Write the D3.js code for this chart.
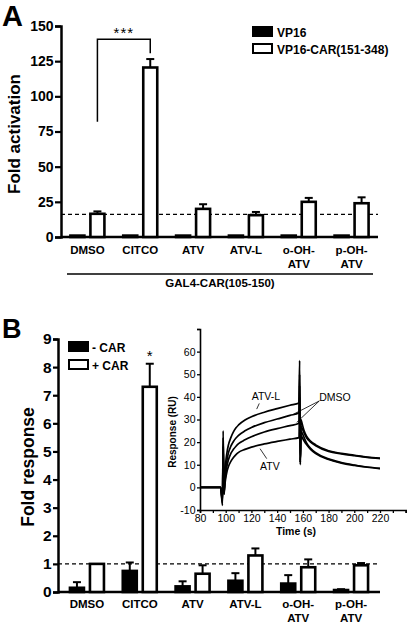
<!DOCTYPE html>
<html><head><meta charset="utf-8">
<script src="https://cdn.jsdelivr.net/npm/d3@7"></script>
<style>
body{margin:0;background:#fff;}
svg{display:block;font-family:"Liberation Sans",Arial,sans-serif;}
</style></head>
<body><svg id="c" width="413" height="625"></svg>
<script>
// ---------- DATA ----------
const categories = ["DMSO","CITCO","ATV","ATV-L","o-OH-ATV","p-OH-ATV"];
const categoryLines = [["DMSO"],["CITCO"],["ATV"],["ATV-L"],["o-OH-","ATV"],["p-OH-","ATV"]];

// Panel A
const seriesA = ["VP16","VP16-CAR(151-348)"];
const vp16 = [1,1,1,1,1,1];
const vp16Err = [1,1,1,1,1,1];
const vp16car = [16.5,120.5,20,15.5,25,24];
const vp16carErr = [18.2,126.5,23.3,17.8,27.8,28.2];
const ticksA = [0,25,50,75,100,125,150];
const refLineA = 16.1;

// Panel B
const seriesB = ["- CAR","+ CAR"];
const minusCar = [0.15,0.75,0.2,0.4,0.3,0.07];
const minusCarErr = [0.35,1.05,0.38,0.67,0.6,0.1];
const plusCar = [1.0,7.3,0.65,1.3,0.88,0.95];
const plusCarErr = [1.0,8.12,0.95,1.55,1.16,1.03];
const ticksB = [0,1,2,3,4,5,6,7,8,9];
const refLineB = 1.0;

// Inset sensorgram
const time = [80,96,97.5,98,98.7,99.3,100,101,102,104,106,108,110,115,120,130,140,150,157,157.5,158,158.5,159.5,161,163,166,170,180,190,200,210,220];
const ruATVL = [0,0,-8,25,-2,5,11,15.5,18.5,22,24.5,26.3,27.6,29.8,31.2,33.2,34.8,36.3,37.3,56,10,30,28,25,22.5,20.5,18.8,16.2,15,14.2,13.4,12.9];
const ruDMSO1 = [0,0,-7,22,-3,3,8,12,15,18.2,20.3,21.8,23,25,26.5,28.6,30.2,31.8,33,50,11,27,26,24,21.8,20,18.4,15.9,14.8,14,13.3,12.7];
const ruDMSO2 = [0,0,-6,18,-2,2,6,9.5,12,15,16.8,18.2,19.3,21,22.4,24.5,26,27.3,28.3,45,11,25,24,22,19.5,17.3,15.3,12.6,11,9.9,9,8.4];
const ruATV = [0,0,-5,15,-3,1,4,7,9,11.5,13.2,14.5,15.5,16.8,17.8,19.2,20.3,21.3,22,40,12,23,22,20.5,18.8,16.8,14.9,12.3,10.7,9.7,8.9,8.3];
const insetXTicks = [80,100,120,140,160,180,200,220];
const insetYTicks = [-10,0,10,20,30,40,50,60];

// annotations (data coords)
const notes = [
  {text:"ATV-L", t:131.3, v:38.5, lines:[[126.1,37.1,124.1,34.6]]},
  {text:"DMSO", t:185, v:38.1, lines:[[172.8,38.2,152.6,32.3],[172.8,38.2,155.2,28.7]]},
  {text:"ATV", t:134.4, v:7.8, lines:[[131.9,12.7,126.7,17.1]]}
];

// ---------- DRAW ----------
const svg = d3.select("#c");
const BOLD = "bold";

function barPanel(opts){
  const g = svg.append("g");
  const x0 = d3.scaleBand().domain(categories).range(opts.xr).paddingOuter(opts.po);
  const x1 = d3.scaleBand().domain(opts.series).range([-17,17]).paddingInner(0.3);
  const y = d3.scaleLinear().domain(opts.ydom).range(opts.yr);

  const ya = d3.axisLeft(y).tickValues(opts.ticks).tickSize(opts.tickLen).tickPadding(1.5);
  const yg = g.append("g").attr("transform",`translate(${opts.axisX},0)`).call(ya);
  yg.select(".domain").attr("stroke","#000").attr("stroke-width",2.5);
  yg.selectAll(".tick line").attr("stroke","#000").attr("stroke-width",2.2);
  yg.selectAll(".tick text").attr("font-size",opts.tickFont).attr("font-weight",BOLD)
    .attr("fill","#000").attr("font-family","'Liberation Sans',Arial,sans-serif");

  g.append("line").attr("x1",opts.axisX).attr("x2",opts.axisEnd)
    .attr("y1",y(0)).attr("y2",y(0)).attr("stroke","#000").attr("stroke-width",2.5);

  g.append("line").attr("x1",opts.axisX).attr("x2",opts.axisEnd)
    .attr("y1",y(opts.refLine)).attr("y2",y(opts.refLine))
    .attr("stroke","#000").attr("stroke-width",1.3).attr("stroke-dasharray","4,3");

  const data = [];
  categories.forEach((c,i)=>{
    opts.series.forEach((s,j)=>{
      data.push({c, s, j, v:opts.vals[j][i], e:opts.errs[j][i]});
    });
  });
  const cx = d => x0(d.c)+x0.bandwidth()/2 + x1(d.s);
  const eb = g.append("g");
  data.forEach(d=>{
    const xm = cx(d)+x1.bandwidth()/2;
    if (d.e > d.v){
      eb.append("line").attr("x1",xm).attr("x2",xm).attr("y1",y(d.v)).attr("y2",y(d.e))
        .attr("stroke","#000").attr("stroke-width",2);
      eb.append("line").attr("x1",xm-4).attr("x2",xm+4).attr("y1",y(d.e)).attr("y2",y(d.e))
        .attr("stroke","#000").attr("stroke-width",2);
    }
  });
  g.append("g").selectAll("rect").data(data).join("rect")
    .attr("x",d=>cx(d)).attr("width",x1.bandwidth())
    .attr("y",d=>y(d.v)).attr("height",d=>Math.max(0.5,y(0)-y(d.v)))
    .attr("fill",d=>d.j===0?"#000":"#fff").attr("stroke","#000").attr("stroke-width",2.6);

  categories.forEach((c,i)=>{
    const t = g.append("text").attr("x",x0(c)+x0.bandwidth()/2).attr("text-anchor","middle")
      .attr("font-size",11.5).attr("font-weight",BOLD);
    categoryLines[i].forEach((ln,k)=>{
      t.append("tspan").attr("x",x0(c)+x0.bandwidth()/2).attr("y",opts.labelY + k*13.5).text(ln);
    });
  });
  return {x0,x1,y,g};
}

// Panel A
const A = barPanel({xr:[61,378], po:0, series:seriesA, ydom:[0,150], yr:[237,26],
  ticks:ticksA, tickLen:6, tickFont:14, axisX:61, axisEnd:378, refLine:refLineA,
  vals:[vp16,vp16car], errs:[vp16Err,vp16carErr], labelY:254});

{
  const xL = A.x0("DMSO")+A.x0.bandwidth()/2 + A.x1(seriesA[1]) + A.x1.bandwidth()/2;
  const xR = A.x0("CITCO")+A.x0.bandwidth()/2 + A.x1(seriesA[1]) + A.x1.bandwidth()/2;
  A.g.append("path").attr("d",`M${xL},${A.y(82)}V${A.y(140.6)}H${xR}V${A.y(130.7)}`)
    .attr("fill","none").attr("stroke","#000").attr("stroke-width",1.5);
  A.g.append("text").attr("x",(xL+xR)/2).attr("y",A.y(141.5)).attr("text-anchor","middle")
    .attr("font-size",15).attr("letter-spacing",1).text("***");
}
svg.append("line").attr("x1",67).attr("x2",373).attr("y1",274).attr("y2",274)
  .attr("stroke","#000").attr("stroke-width",1.5);
svg.append("text").attr("x",220).attr("y",287).attr("text-anchor","middle")
  .attr("font-size",11.5).attr("font-weight",BOLD).text("GAL4-CAR(105-150)");
seriesA.forEach((s,j)=>{
  const yy = 27 + j*17;
  svg.append("rect").attr("x",253).attr("y",yy).attr("width",19).attr("height",9)
    .attr("fill",j===0?"#000":"#fff").attr("stroke","#000").attr("stroke-width",2);
  svg.append("text").attr("x",277).attr("y",yy+10).attr("font-size",12).attr("font-weight",BOLD).text(s);
});
svg.append("text").attr("transform","translate(20,134) rotate(-90)").attr("text-anchor","middle")
  .attr("font-size",17).attr("font-weight",BOLD).text("Fold activation");
svg.append("text").attr("x",2).attr("y",26).attr("font-size",29).attr("font-weight",BOLD).text("A");

// Panel B
const B = barPanel({xr:[58,380], po:0.048, series:seriesB, ydom:[0,9], yr:[592,339],
  ticks:ticksB, tickLen:5, tickFont:15.5, axisX:58, axisEnd:380, refLine:refLineB,
  vals:[minusCar,plusCar], errs:[minusCarErr,plusCarErr], labelY:608});
{
  const xc = B.x0("CITCO")+B.x0.bandwidth()/2 + B.x1(seriesB[1]) + B.x1.bandwidth()/2;
  B.g.append("text").attr("x",xc).attr("y",B.y(8.2)).attr("text-anchor","middle")
    .attr("font-size",15).text("*");
}
seriesB.forEach((s,j)=>{
  const yy = 342 + j*18;
  svg.append("rect").attr("x",69).attr("y",yy).attr("width",19).attr("height",9)
    .attr("fill",j===0?"#000":"#fff").attr("stroke","#000").attr("stroke-width",2);
  svg.append("text").attr("x",92).attr("y",yy+10).attr("font-size",12).attr("font-weight",BOLD).text(s);
});
svg.append("text").attr("transform","translate(34,467) rotate(-90)").attr("text-anchor","middle")
  .attr("font-size",17.5).attr("font-weight",BOLD).text("Fold response");
svg.append("text").attr("x",2).attr("y",338).attr("font-size",27).attr("font-weight",BOLD).text("B");

// Inset
{
  const ix = d3.scaleLinear().domain([80,240]).range([200,405.7]);
  const iy = d3.scaleLinear().domain([-10,70]).range([510,329]);
  const g = svg.append("g");
  const xa = d3.axisBottom(ix).tickValues(d3.range(80,241,10)).tickSize(3).tickPadding(2)
    .tickFormat(d=>insetXTicks.includes(d)?d:"");
  const xg = g.append("g").attr("transform",`translate(0,${iy(-10)})`).call(xa);
  const ya = d3.axisLeft(iy).tickValues(d3.range(-10,71,10)).tickSize(3).tickPadding(1.5)
    .tickFormat(d=>insetYTicks.includes(d)?d:"");
  const yg = g.append("g").attr("transform",`translate(${ix(80)},0)`).call(ya);
  [xg,yg].forEach(a=>{
    a.select(".domain").attr("stroke","#000").attr("stroke-width",1.6);
    a.selectAll(".tick line").attr("stroke","#000").attr("stroke-width",1.3);
    a.selectAll(".tick text").attr("font-size",10.5).attr("fill","#000")
      .attr("font-family","'Liberation Sans',Arial,sans-serif");
  });
  const line = d3.line().x((d,i)=>ix(time[i])).y(d=>iy(d)).curve(d3.curveMonotoneX);
  [ruATVL,ruDMSO1,ruDMSO2,ruATV].forEach(arr=>{
    g.append("path").attr("d",line(arr)).attr("fill","none").attr("stroke","#000").attr("stroke-width",1.7);
  });
  notes.forEach(n=>{
    g.append("text").attr("x",ix(n.t)).attr("y",iy(n.v)).attr("text-anchor","middle")
      .attr("font-size",10.5).text(n.text);
    n.lines.forEach(l=>{
      g.append("line").attr("x1",ix(l[0])).attr("y1",iy(l[1])).attr("x2",ix(l[2])).attr("y2",iy(l[3]))
        .attr("stroke","#000").attr("stroke-width",0.8);
    });
  });
  g.append("text").attr("x",296).attr("y",535).attr("text-anchor","middle")
    .attr("font-size",10.5).attr("font-weight",BOLD).text("Time (s)");
  g.append("text").attr("transform","translate(176,432) rotate(-90)").attr("text-anchor","middle")
    .attr("font-size",10).attr("font-weight",BOLD).text("Response (RU)");
}
</script></body></html>
